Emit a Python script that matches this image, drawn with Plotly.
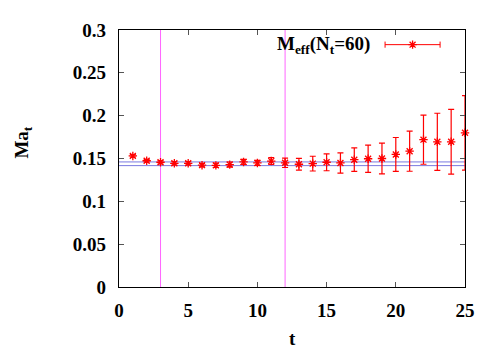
import plotly.graph_objects as go

# --- data ---
t_vals = [1, 2, 3, 4, 5, 6, 7, 8, 9, 10, 11, 12, 13,
          14, 15, 16, 17, 18, 19, 20, 21, 22, 23, 24, 25]
m_eff = [0.153, 0.1474, 0.1456, 0.1444, 0.1444, 0.1422, 0.142, 0.1429, 0.146,
         0.1448, 0.147, 0.145, 0.1433, 0.144, 0.1456, 0.1448, 0.1486, 0.1497,
         0.150, 0.1547, 0.1585, 0.172, 0.1695, 0.1695, 0.180]
m_err = [0.0015, 0.0015, 0.002, 0.002, 0.002, 0.002, 0.0025, 0.003, 0.003,
         0.003, 0.004, 0.0055, 0.0068, 0.0086, 0.0099, 0.0118, 0.0137, 0.0158,
         0.0179, 0.0198, 0.0234, 0.0287, 0.0333, 0.0378, 0.0435]
fit_band = [0.1417, 0.146]   # horizontal lines
fit_window = [3, 12]          # vertical lines
x_ticks = [0, 5, 10, 15, 20, 25]
y_ticks = [0, 0.05, 0.1, 0.15, 0.2, 0.25, 0.3]

FONT = "Liberation Serif, Times New Roman, serif"
RED = "#ff0000"
bold19 = dict(family=FONT, size=19, color="black", weight="bold")

fig = go.Figure()

fig.add_trace(go.Scatter(
    x=t_vals, y=m_eff, mode="markers",
    marker=dict(symbol="asterisk-open", size=7, color=RED,
                line=dict(color=RED, width=1.3)),
    error_y=dict(type="data", array=m_err, color=RED, thickness=1.2, width=3),
    cliponaxis=False, showlegend=False, hoverinfo="x+y",
))

# fit band and window lines
for yv in fit_band:
    fig.add_hline(y=yv, line=dict(color="#7a7ae0", width=1), layer="below")
for xv in fit_window:
    fig.add_vline(x=xv, line=dict(color="#ff66ff", width=1), layer="below")

# --- gnuplot style key: text left, sample on the right ---
kx0, kx1, ky = 0.769, 0.928, 0.943
fig.add_shape(type="line", xref="paper", yref="paper", x0=kx0, x1=kx1, y0=ky, y1=ky,
              line=dict(color=RED, width=1))
for kx in (kx0, kx1):
    fig.add_shape(type="line", xref="paper", yref="paper", x0=kx, x1=kx,
                  y0=ky - 0.012, y1=ky + 0.012, line=dict(color=RED, width=1))
fig.add_trace(go.Scatter(
    x=[(kx0 + kx1) / 2], y=[ky], xaxis="x2", yaxis="y2", mode="markers",
    marker=dict(symbol="asterisk-open", size=7, color=RED,
                line=dict(color=RED, width=1.3)),
    showlegend=False, hoverinfo="skip",
))
fig.add_annotation(xref="paper", yref="paper", x=0.731, y=ky, xanchor="right",
                   yanchor="middle", showarrow=False,
                   text="M<sub>eff</sub>(N<sub>t</sub>=60)", font=bold19)

# axis titles
fig.add_annotation(xref="paper", yref="paper", x=-0.276, y=0.56, textangle=-90,
                   xanchor="center", yanchor="middle", showarrow=False,
                   text="Ma<sub>t</sub>", font=bold19)
fig.add_annotation(xref="paper", yref="paper", x=0.5, y=-0.2,
                   xanchor="center", yanchor="middle", showarrow=False,
                   text="t", font=bold19)

axis_common = dict(
    showgrid=False, zeroline=False, showline=True, linecolor="black", linewidth=1.3,
    mirror="ticks", ticks="inside", ticklen=5, tickcolor="#555", tickwidth=1,
    tickfont=bold19,
)
# page body has an 8px margin, so the figure is shifted up/left to compensate
fig.update_layout(
    width=500, height=350,
    margin=dict(l=111, r=43, t=16, b=71),
    paper_bgcolor="white", plot_bgcolor="white",
    font=dict(family=FONT),
    xaxis=dict(range=[0, 25], tickvals=x_ticks, ticklabelstandoff=6, **axis_common),
    yaxis=dict(range=[0, 0.3], tickvals=y_ticks, ticklabelstandoff=8, **axis_common),
    xaxis2=dict(range=[0, 1], overlaying="x", visible=False),
    yaxis2=dict(range=[0, 1], overlaying="y", visible=False),
)

fig.write_html("out.html")
